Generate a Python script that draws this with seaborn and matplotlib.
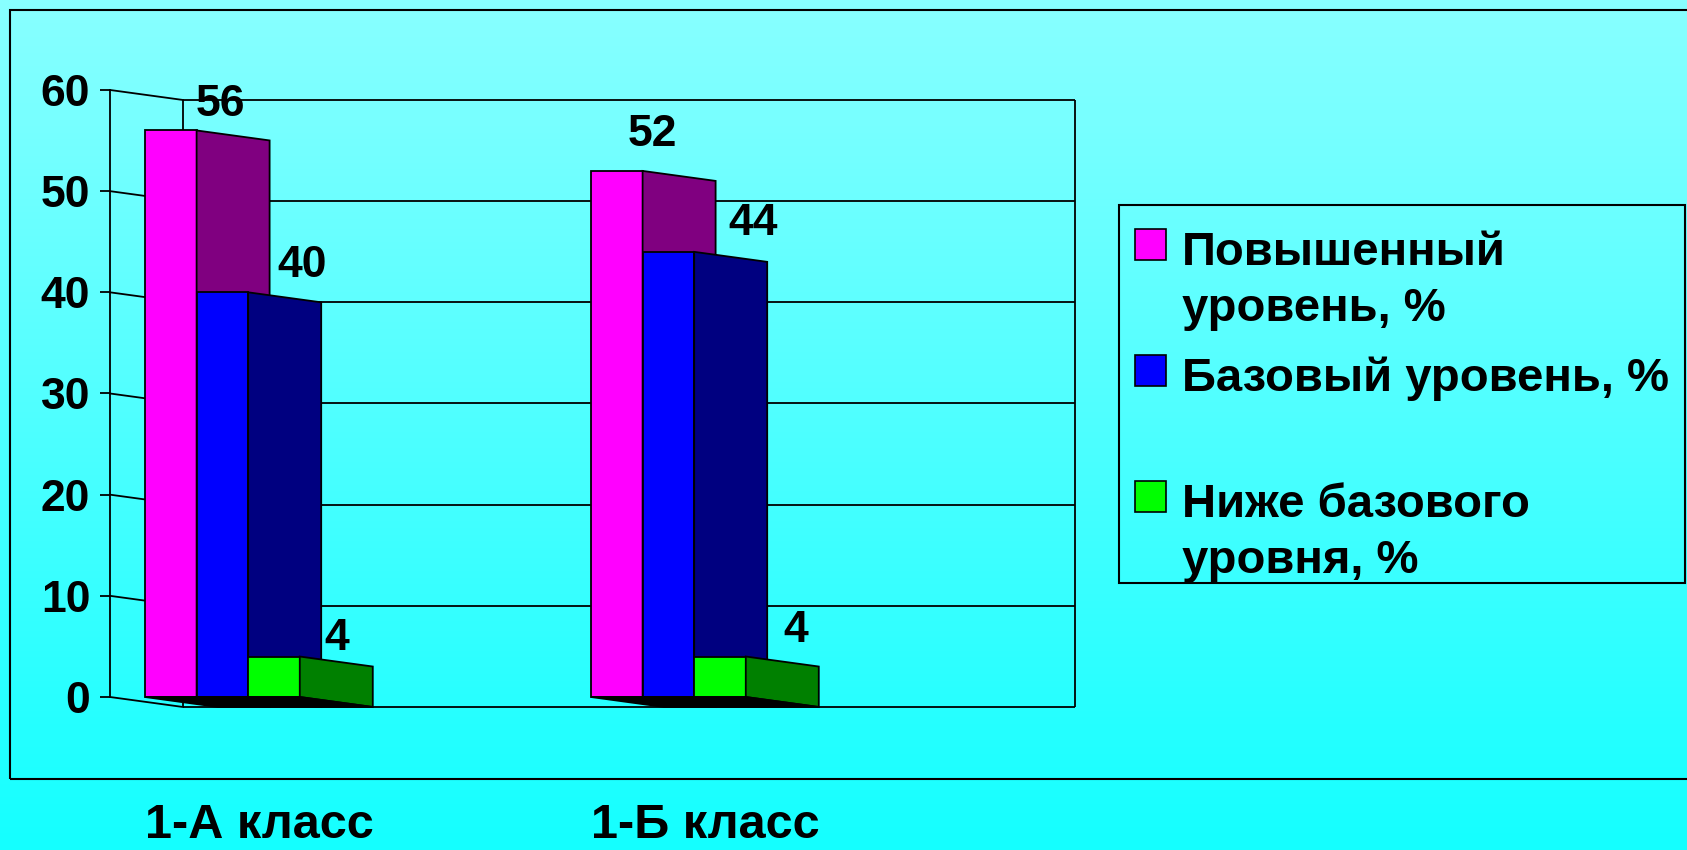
import matplotlib
matplotlib.use("Agg")
import matplotlib.pyplot as plt
from matplotlib.colors import to_hex
from matplotlib.patches import Polygon, Rectangle
import numpy as np
import pandas as pd
import seaborn as sns

# data
classes = ["1-А класс", "1-Б класс"]
levels = ["Повышенный\nуровень, %", "Базовый уровень, %", "Ниже базового\nуровня, %"]
high = [56, 52]
base = [40, 44]
low = [4, 4]
yticks = [0, 10, 20, 30, 40, 50, 60]

front_colors = ["#FF00FF", "#0000FF", "#00FF00"]
side_colors = ["#800080", "#000080", "#008000"]
# Excel pushed the value labels sideways to keep them off the bars (pixels, per series / class)
label_nudge = [[(50, 26), (36, 36)], [(80, 27), (85, 28)], [(63, 18), (76, 26)]]

df = pd.DataFrame({
    "class": classes * 3,
    "level": np.repeat(levels, 2),
    "value": high + base + low,
})

plt.rcParams["font.family"] = ["Liberation Sans", "DejaVu Sans"]
plt.rcParams["font.weight"] = "bold"

W, H = 1687, 850
fig = plt.figure(figsize=(W / 100, H / 100), dpi=100)

# cyan gradient background
bg = fig.add_axes([0, 0, 1, 1], zorder=-1)
t = np.linspace(0, 1, 256)[:, None]
top, bottom = np.array([136, 255, 255]) / 255, np.array([20, 255, 255]) / 255
grad = (1 - t)[..., None] * top + t[..., None] * bottom
bg.imshow(grad, aspect="auto", extent=(0, 1, 0, 1))
bg.set_axis_off()

ax = fig.add_axes([0, 0, 1, 1])
ax.set_facecolor("none")

# pixel <-> data mapping of the pseudo-3D frame
x0_px, x_step = 222.4, 446.0
y0_px, y_step = 697.0, 10.117
dx = 73 / x_step          # depth shift to the right
dy = 10 / y_step          # depth shift downwards
x_front = (110 - x0_px) / x_step
x_back_right = (1075 - x0_px) / x_step

sns.barplot(data=df, x="class", y="value", hue="level", order=classes,
            hue_order=levels, palette=front_colors, width=0.347, saturation=1,
            edgecolor="black", linewidth=1.3, errorbar=None, legend=False, ax=ax)

ax.set_xlim(-x0_px / x_step, (W - x0_px) / x_step)
ax.set_ylim((y0_px - H) / y_step, y0_px / y_step)

# back wall, grid and the slanted tick connectors
for v in yticks:
    ax.plot([x_front, x_front + dx], [v, v - dy], color="black", lw=1.3, zorder=1)
    ax.hlines(v - dy, x_front + dx, x_back_right, color="black", lw=1.3, zorder=1)
ax.vlines([x_front + dx, x_back_right], -dy, yticks[-1] - dy, color="black", lw=1.3, zorder=1)

# side and bottom faces of the bars
for bar in list(ax.patches):
    s = front_colors.index(to_hex(bar.get_facecolor()).upper())
    bx, w, h = bar.get_x(), bar.get_width(), bar.get_height()
    x1 = bx + w
    bar.set_zorder(3 + 2 * s)
    ax.add_patch(Polygon([(bx, 0), (x1, 0), (x1 + dx, -dy), (bx + dx, -dy)],
                         closed=True, facecolor="black", edgecolor="black", lw=1.3, zorder=12))
    ax.add_patch(Polygon([(x1, 0), (x1, h), (x1 + dx, h - dy), (x1 + dx, -dy)],
                         closed=True, facecolor=side_colors[s], edgecolor="black",
                         lw=1.3, zorder=3.5 + 2 * s))
    c = int(round(bx + w / 2))
    nx, ny = label_nudge[s][c]
    ax.annotate(f"{h:g}", xy=(bx + w / 2, h), xytext=(nx * 0.72, ny * 0.72),
                textcoords="offset points", ha="center", va="center",
                fontsize=32, fontweight="bold", zorder=20)

# axes: front value axis and category labels
for side in ["top", "right"]:
    ax.spines[side].set_visible(False)
ax.spines["left"].set_position(("data", x_front))
ax.spines["left"].set_bounds(yticks[0], yticks[-1])
ax.spines["left"].set_linewidth(1.3)
ax.spines["bottom"].set_position(("data", (y0_px - 803) / y_step))
ax.spines["bottom"].set_visible(False)
ax.set_yticks(yticks)
ax.tick_params(axis="y", length=7.2, width=1.3, labelsize=32, pad=7)
ax.set_xticks([i + dx / 2 for i in range(len(classes))], classes)
ax.tick_params(axis="x", length=0, labelsize=35, pad=0)
ax.set_xlabel("")
ax.set_ylabel("")


def fx(px):
    return px / W


def fy(py):
    return 1 - py / H


# outer chart frame
fig.add_artist(Rectangle((fx(10), fy(779)), fx(1690) - fx(10), fy(10) - fy(779),
                         transform=fig.transFigure, fill=False, edgecolor="black", lw=1.5))

# legend box drawn by hand so markers sit on the first text line
fig.add_artist(Rectangle((fx(1119), fy(583)), fx(1685) - fx(1119), fy(205) - fy(583),
                         transform=fig.transFigure, fill=False, edgecolor="black", lw=1.5))
marker_tops = [229, 355, 481]
for lab, col, mt in zip(levels, front_colors, marker_tops):
    fig.add_artist(Rectangle((fx(1135), fy(mt + 31)), fx(31), fy(mt) - fy(mt + 31),
                             transform=fig.transFigure, facecolor=col,
                             edgecolor="black", lw=1.2))
    fig.text(fx(1182), fy(mt + 2), lab, fontsize=34, fontweight="bold",
             va="top", ha="left", linespacing=1.35)

fig.savefig("out.png", dpi=100)
